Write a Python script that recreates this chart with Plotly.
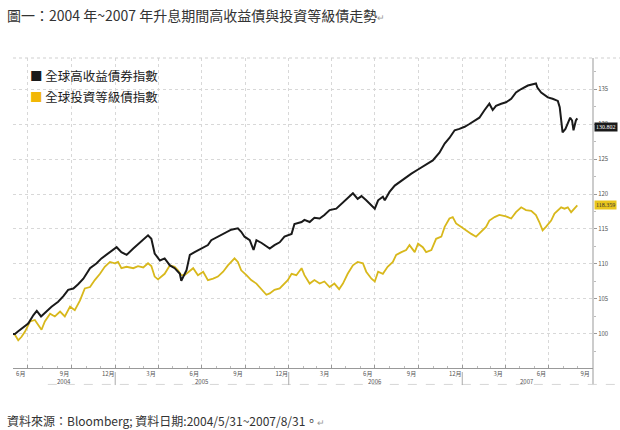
import plotly.graph_objects as go
import pandas as pd

# days counted from 2004-05-31
start = pd.Timestamp("2004-05-31")

hy_days = [0, 4, 11, 22, 32, 43, 50, 59, 71, 81, 95, 106, 116, 127, 137, 148, 162, 176, 186, 204,
           218, 228, 239, 253, 267, 277, 284, 291, 298, 309, 319, 330, 340, 351, 354, 365, 372, 382,
           396, 410, 417, 431, 445, 459, 473, 480, 487, 498, 506, 512, 523, 536, 540, 550, 561, 571,
           586, 592, 607, 613, 624, 634, 645, 655, 666, 680, 691, 704, 715, 725, 733, 743, 754, 761,
           768, 778, 782, 792, 803, 813, 824, 838, 852, 866, 883, 897, 908, 918, 929, 939, 950, 960,
           971, 981, 992, 1002, 1009, 1016, 1027, 1037, 1048, 1058, 1069, 1083, 1100, 1103, 1111,
           1118, 1125, 1135, 1146, 1150, 1156, 1162, 1167, 1172, 1176, 1179, 1184, 1187]
hy_vals = [100.0, 100.0, 100.4, 101.0, 101.5, 102.7, 103.3, 102.5, 103.3, 103.9, 104.6, 105.4, 106.3,
           106.5, 107.1, 107.9, 109.4, 110.1, 110.8, 111.7, 112.4, 111.7, 111.3, 112.2, 113.1, 113.6,
           114.1, 113.6, 111.5, 110.5, 110.8, 109.8, 109.4, 108.6, 107.6, 109.1, 111.3, 111.7, 112.2,
           112.7, 113.4, 113.9, 114.3, 114.9, 115.1, 114.6, 113.9, 113.4, 112.0, 113.4, 113.0, 112.4,
           112.2, 112.7, 113.1, 113.9, 114.3, 115.7, 116.0, 116.3, 116.0, 116.6, 116.5, 117.0, 117.7,
           117.9, 118.6, 119.3, 120.1, 119.3, 119.7, 119.1, 118.4, 117.9, 119.1, 119.6, 119.1, 120.3,
           121.2, 121.7, 122.2, 122.9, 123.5, 124.1, 124.8, 125.9, 127.2, 128.0, 129.1, 129.3, 129.6,
           130.0, 130.5, 130.9, 132.0, 132.9, 132.0, 132.6, 132.9, 133.1, 133.6, 134.5, 135.0, 135.5,
           135.8, 135.2, 134.5, 134.2, 133.8, 133.6, 133.3, 132.4, 128.8, 129.3, 130.2, 130.9, 130.5,
           129.1, 130.5, 130.802]

ig_days = [0, 4, 11, 18, 25, 36, 46, 53, 60, 67, 78, 88, 99, 109, 120, 130, 141, 151, 162, 172, 183,
           193, 204, 214, 221, 228, 239, 253, 263, 274, 284, 291, 298, 305, 319, 330, 340, 347, 354,
           361, 372, 379, 389, 400, 410, 421, 431, 442, 452, 466, 473, 480, 491, 501, 512, 523, 533,
           540, 550, 561, 571, 578, 586, 596, 607, 613, 624, 634, 645, 655, 666, 676, 686, 694, 704,
           715, 725, 736, 743, 754, 761, 768, 778, 788, 799, 806, 817, 827, 834, 845, 852, 862, 869,
           880, 890, 901, 908, 918, 925, 932, 943, 953, 964, 974, 985, 995, 1002, 1013, 1023, 1037,
           1048, 1058, 1069, 1079, 1090, 1100, 1107, 1114, 1121, 1132, 1139, 1146, 1153, 1160, 1167,
           1174, 1181, 1187]
ig_vals = [100.0, 99.9, 99.1, 99.6, 100.3, 101.8, 102.0, 101.3, 100.6, 101.8, 102.9, 102.5, 103.2,
           102.5, 103.9, 103.4, 104.8, 106.5, 106.7, 107.7, 108.6, 109.6, 110.3, 110.1, 110.3, 109.4,
           109.6, 109.4, 109.7, 109.5, 110.1, 109.7, 108.2, 107.8, 108.6, 109.8, 109.6, 109.1, 108.4,
           108.4, 109.1, 109.4, 108.4, 108.9, 107.7, 107.9, 108.2, 108.9, 109.8, 110.8, 110.3, 109.1,
           108.4, 107.7, 107.2, 106.3, 105.6, 105.8, 106.3, 106.5, 107.2, 107.7, 108.6, 108.4, 109.4,
           108.4, 107.2, 107.7, 107.2, 107.5, 106.7, 107.2, 106.4, 107.2, 108.6, 109.8, 110.3, 110.1,
           108.9, 107.9, 107.5, 108.9, 108.6, 109.6, 110.3, 111.3, 111.7, 112.0, 112.7, 111.7, 112.9,
           112.4, 111.7, 112.0, 113.6, 113.9, 115.3, 116.5, 116.7, 115.8, 115.3, 114.8, 114.3, 113.9,
           114.6, 115.3, 116.2, 116.7, 117.0, 116.8, 116.5, 117.4, 118.1, 117.7, 117.6, 117.0, 116.0,
           114.8, 115.3, 116.2, 117.2, 117.6, 118.1, 117.9, 118.1, 117.4, 117.9, 118.359]

hy_name = "全球高收益債券指數"
ig_name = "全球投資等級債指數"

tick_dates = ["2004-07-01", "2004-10-01", "2005-01-01", "2005-04-01", "2005-07-01", "2005-10-01",
              "2006-01-01", "2006-04-01", "2006-07-01", "2006-10-01", "2007-01-01", "2007-04-01",
              "2007-07-01", "2007-10-01"]
tick_labels = ["6月", "9月", "12月", "3月", "6月", "9月", "12月", "3月", "6月", "9月", "12月", "3月",
               "6月", "9月"]
year_labels = ["2004", "2005", "2006", "2007"]
year_label_dates = ["2004-09-15", "2005-07-02", "2006-07-02", "2007-05-18"]
year_breaks = ["2005-01-01", "2006-01-01", "2007-01-01"]

hy_x = start + pd.to_timedelta(hy_days, unit="D")
ig_x = start + pd.to_timedelta(ig_days, unit="D")

BLACK = "#1a1a1a"
YELLOW = "#d8b81c"
CJK = "Noto Sans CJK TC"

fig = go.Figure()
fig.add_trace(go.Scatter(x=ig_x, y=ig_vals, mode="lines", name=ig_name,
                         line=dict(color=YELLOW, width=1.8)))
fig.add_trace(go.Scatter(x=hy_x, y=hy_vals, mode="lines", name=hy_name,
                         line=dict(color=BLACK, width=2)))

fig.update_layout(
    width=620, height=430,
    margin=dict(l=13, r=27, t=58, b=62),
    paper_bgcolor="white", plot_bgcolor="white",
    showlegend=False,
    font=dict(family=CJK, color="#333"),
)

fig.update_xaxes(
    type="date", range=["2004-05-31", "2007-10-03"],
    tickvals=tick_dates, ticktext=tick_labels, ticklabelshift=-7,
    tickfont=dict(size=6, color="#555"),
    ticks="inside", ticklen=3, tickcolor="#999",
    minor=dict(dtick="M1", ticks="inside", ticklen=2, tickcolor="#bbb", showgrid=False),
    showgrid=True, gridcolor="#d8d8d8", griddash="dot", gridwidth=1,
    showline=True, linecolor="#999", linewidth=1, zeroline=False,
)
fig.update_yaxes(
    side="right", range=[95.14, 139.43],
    tickvals=[100, 105, 110, 115, 120, 125, 130, 135],
    tickfont=dict(size=6, color="#555"),
    ticks="outside", ticklen=3, tickcolor="#999",
    minor=dict(dtick=2.5, tick0=0, ticks="outside", ticklen=2, tickcolor="#bbb", showgrid=False),
    showgrid=True, gridcolor="#d8d8d8", griddash="dot", gridwidth=1,
    showline=False, zeroline=False,
)

shapes = [
    # dotted top border running to the page edge
    dict(type="line", xref="paper", yref="paper", x0=0, x1=1.05, y0=1, y1=1,
         line=dict(color="#cfcfcf", width=1, dash="dot")),
    # right axis line, extended below the date labels
    dict(type="line", xref="paper", yref="paper", x0=1, x1=1, y0=-0.055, y1=1,
         line=dict(color="#999", width=1)),
    # faint second label row
    dict(type="line", xref="paper", yref="paper", x0=0.06, x1=1.05, y0=-0.053, y1=-0.053,
         line=dict(color="#d6d6d6", width=1, dash="dash")),
    # white box behind the legend
    dict(type="rect", xref="paper", yref="paper", x0=0, x1=0.27, y0=0.84, y1=0.995,
         fillcolor="white", line=dict(width=0), layer="between"),
]
for d in year_breaks:
    shapes.append(dict(type="line", xref="x", yref="paper", x0=d, x1=d, y0=-0.013, y1=-0.055,
                       line=dict(color="#aaa", width=1)))
fig.update_layout(shapes=shapes)

for lbl, d in zip(year_labels, year_label_dates):
    fig.add_annotation(x=d, y=-0.042, xref="x", yref="paper", yanchor="middle", text=lbl,
                       showarrow=False, font=dict(size=6, color="#555"))

# legend
fig.add_annotation(x=0.026, y=0.942, xref="paper", yref="paper", xanchor="left", yanchor="middle",
                   showarrow=False, text=f'<span style="color:{BLACK}">■</span> ' + hy_name,
                   font=dict(family=CJK, size=12.5, color="#222"))
fig.add_annotation(x=0.026, y=0.877, xref="paper", yref="paper", xanchor="left", yanchor="middle",
                   showarrow=False, text=f'<span style="color:#f2b705">■</span> ' + ig_name,
                   font=dict(family=CJK, size=12.5, color="#222"))

# last value tags
fig.add_annotation(x=1, y=hy_vals[-1], xref="paper", yref="y", xanchor="left", yanchor="middle",
                   xshift=1, yshift=-9, text=f"{hy_vals[-1]:.3f}", showarrow=False, bgcolor=BLACK,
                   borderpad=1, font=dict(family="Liberation Serif", size=6, color="white"))
fig.add_annotation(x=1, y=ig_vals[-1], xref="paper", yref="y", xanchor="left", yanchor="middle",
                   xshift=1, text=f"{ig_vals[-1]:.3f}", showarrow=False, bgcolor="#e9c61c",
                   borderpad=1, font=dict(family="Liberation Serif", size=6, color="#333"))

# title and source
fig.add_annotation(x=-0.0138, y=1.139, xref="paper", yref="paper", xanchor="left", yanchor="middle",
                   showarrow=False,
                   text='圖一：2004 年~2007 年升息期間高收益債與投資等級債走勢<span style="font-size:9px;color:#999">↵</span>',
                   font=dict(family=CJK, size=14, color="#333"))
fig.add_annotation(x=-0.0138, y=-0.168, xref="paper", yref="paper", xanchor="left", yanchor="middle",
                   showarrow=False,
                   text='資料來源：Bloomberg; 資料日期:2004/5/31~2007/8/31。<span style="font-size:9px;color:#999">↵</span>',
                   font=dict(family=CJK, size=12, color="#333"))

fig.write_html("out.html", config={"displayModeBar": False},
               post_script="document.body.style.margin='0px';")
